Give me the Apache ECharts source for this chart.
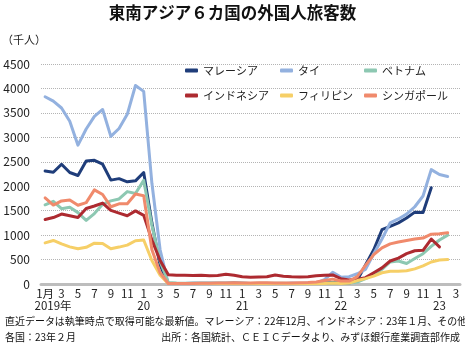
<!DOCTYPE html>
<html>
<head>
<meta charset="utf-8">
<script src="https://cdn.jsdelivr.net/npm/echarts@6/dist/echarts.min.js"></script>
<style>
  html, body { margin: 0; padding: 0; background: #fff; }
  #chart { width: 465px; height: 353px; }
</style>
</head>
<body>
<div id="chart"></div>
<script>
// 2019年1月〜2023年3月
const months = [
  '2019-01','2019-02','2019-03','2019-04','2019-05','2019-06','2019-07','2019-08','2019-09','2019-10','2019-11','2019-12',
  '2020-01','2020-02','2020-03','2020-04','2020-05','2020-06','2020-07','2020-08','2020-09','2020-10','2020-11','2020-12',
  '2021-01','2021-02','2021-03','2021-04','2021-05','2021-06','2021-07','2021-08','2021-09','2021-10','2021-11','2021-12',
  '2022-01','2022-02','2022-03','2022-04','2022-05','2022-06','2022-07','2022-08','2022-09','2022-10','2022-11','2022-12',
  '2023-01','2023-02','2023-03'
];
const yearLabels = ['2019年', '20', '21', '22', '23'];

// 単位：千人
const malaysia = [
  2310, 2285, 2450, 2280, 2220, 2515, 2530, 2450, 2125, 2155, 2090, 2110,
  2280, 1250, 380, 10, 10, 10, 15, 15, 15, 15, 15, 20,
  15, 10, 10, 10, 10, 10, 10, 10, 10, 15, 20, 30,
  20, 20, 80, 390, 700, 1110, 1180, 1250, 1350, 1470, 1460, 1970,
  null, null, null
];
const thailand = [
  3830, 3740, 3600, 3330, 2840, 3170, 3430, 3570, 3020, 3180, 3470, 4060,
  3940, 2060, 700, 0, 0, 0, 0, 0, 0, 1, 6, 7,
  10, 6, 7, 9, 5, 5, 18, 15, 18, 22, 90, 240,
  140, 150, 210, 300, 620, 920, 1250, 1330, 1430, 1580, 1800, 2340,
  2240, 2200, null
];
const vietnam = [
  1620, 1690, 1540, 1570, 1460, 1300, 1440, 1630, 1700, 1740, 1890, 1850,
  2120, 1200, 460, 30, 20, 15, 15, 15, 15, 15, 15, 15,
  15, 10, 15, 15, 15, 15, 10, 10, 10, 15, 15, 20,
  20, 20, 40, 110, 190, 300, 450, 470, 420, 520, 620, 770,
  900, 1000, null
];
const indonesia = [
  1320, 1360, 1430, 1395, 1360, 1545, 1595, 1655, 1505, 1450, 1395, 1495,
  1405, 900, 480, 190, 180, 180, 175, 180, 170, 175, 200, 180,
  150, 140, 145, 150, 185, 160, 150, 145, 150, 170, 180, 185,
  110, 80, 100, 130, 230, 330, 470, 530, 620, 680, 690, 920,
  760, null, null
];
const philippines = [
  840, 890, 820, 760, 720, 750, 835, 830, 720, 755, 795, 885,
  900, 480, 180, 5, 5, 5, 5, 5, 5, 5, 5, 5,
  5, 5, 5, 5, 5, 5, 5, 5, 5, 5, 10, 20,
  10, 20, 70, 110, 160, 230, 260, 260, 270, 310, 370, 450,
  490, 500, null
];
const singapore = [
  1760, 1615, 1700, 1720, 1610, 1665, 1925, 1830, 1580, 1640, 1640, 1840,
  1805, 700, 230, 10, 10, 10, 10, 15, 15, 20, 20, 25,
  20, 20, 25, 25, 20, 20, 20, 25, 30, 40, 70, 100,
  60, 60, 150, 380, 600, 740, 820, 860, 890, 920, 940, 1020,
  1030, 1050, null
];

const seriesNames = ['マレーシア', 'タイ', 'ベトナム', 'インドネシア', 'フィリピン', 'シンガポール'];
const seriesData = [malaysia, thailand, vietnam, indonesia, philippines, singapore];
const colors = ['#1f3d7a', '#93b1df', '#8dc8b2', '#ad2a30', '#f6cf67', '#f08a6c'];

const notes = [
  '直近データは執筆時点で取得可能な最新値。マレーシア：22年12月、インドネシア：23年１月、その他',
  '各国：23年２月',
  '出所：各国統計、ＣＥＩＣデータより、みずほ銀行産業調査部作成'
];

const font = '"Noto Sans CJK JP", "Noto Sans", sans-serif';
const chart = echarts.init(document.getElementById('chart'));

// 凡例は2行×3列
const legendPos = [[185, 65], [280, 65], [364, 65], [185, 90], [280, 90], [364, 90]];
const legends = seriesNames.map((name, i) => ({
  data: [name],
  left: legendPos[i][0],
  top: legendPos[i][1],
  padding: 0,
  icon: 'roundRect',
  itemWidth: 13,
  itemHeight: 4,
  textStyle: { fontSize: 11, color: '#222', fontFamily: font }
}));

// 注記（文字幅を少し詰める）
function noteText(text, x, y, align) {
  return {
    type: 'text',
    x: x,
    y: y,
    scaleX: 0.95,
    style: {
      text: text,
      fill: '#111',
      fontSize: 10.5,
      fontFamily: font,
      align: align,
      textAlign: align,
      verticalAlign: 'middle',
      textVerticalAlign: 'middle'
    }
  };
}

const labelStyle = { fontSize: 11.5, color: '#222', fontFamily: font };

chart.setOption({
  animation: false,
  color: colors,
  title: [
    {
      text: '東南アジア６カ国の外国人旅客数',
      left: 'center', top: 4, padding: 0,
      textStyle: { fontSize: 16.5, fontWeight: 'bold', color: '#111', fontFamily: font }
    },
    {
      text: '（千人）',
      left: 2, top: 34, padding: 0,
      textStyle: { fontSize: 11, fontWeight: 'normal', color: '#222', fontFamily: font }
    }
  ],
  graphic: [
    noteText(notes[0], 5, 321, 'left'),
    noteText(notes[1], 5, 337, 'left'),
    noteText(notes[2], 460, 337, 'right')
  ],
  legend: legends,
  grid: { left: 41, right: 5, top: 64, bottom: 69 },
  xAxis: [
    {
      type: 'category',
      data: months,
      boundaryGap: true,
      axisLine: { lineStyle: { color: '#bdbdbd', width: 3 } },
      axisTick: { show: false },
      axisLabel: Object.assign({
        interval: 1,
        margin: 4,
        showMinLabel: true,
        formatter: (value, idx) => {
          const m = parseInt(value.slice(5), 10);
          return idx === 0 ? '1月' : String(m);
        }
      }, labelStyle)
    },
    {
      // 年の行
      type: 'category',
      data: months,
      boundaryGap: true,
      position: 'bottom',
      offset: 12,
      axisLine: { show: false },
      axisTick: { show: false },
      axisLabel: Object.assign({
        interval: 0,
        margin: 4,
        showMinLabel: true,
        formatter: (value, idx) => {
          const y = parseInt(value.slice(0, 4), 10);
          const m = parseInt(value.slice(5), 10);
          if (m !== 1) return '';
          if (idx === 0) return '{b|' + yearLabels[0] + '}';
          return yearLabels[y - 2019];
        },
        rich: {
          b: Object.assign({ padding: [0, 0, 0, 16] }, labelStyle)
        }
      }, labelStyle)
    }
  ],
  yAxis: {
    type: 'value',
    min: 0,
    max: 4500,
    interval: 500,
    axisLine: { show: false },
    axisTick: { show: false },
    axisLabel: Object.assign({ margin: 11, formatter: (v) => String(v) }, labelStyle, { fontSize: 12 }),
    splitLine: { lineStyle: { color: '#b4b4b4', type: 'dotted', width: 1 } }
  },
  series: seriesNames.map((name, i) => ({
    name: name,
    type: 'line',
    data: seriesData[i],
    symbol: 'none',
    lineStyle: { width: 3, cap: 'round', join: 'round' }
  }))
});
</script>
</body>
</html>
